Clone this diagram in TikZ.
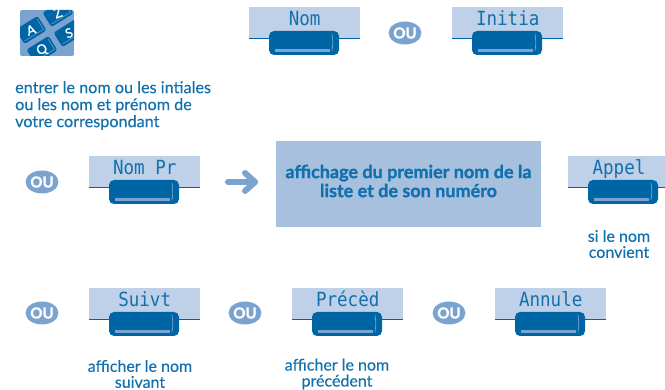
\documentclass[tikz,border=0pt]{standalone}
\usepackage{fontspec}
\setmainfont{Lato}
\newfontfamily\lcdfont[FakeStretch=0.9]{DejaVu Sans Mono}
\newfontfamily\capfont[FakeBold=0.3]{Lato}
\newfontfamily\heavyfont[FakeBold=1.2]{Lato}
\definecolor{kblue}{HTML}{0065A4}
\definecolor{lcd}{HTML}{BFD1E8}
\definecolor{midb}{HTML}{7BA3CF}
\definecolor{panel}{HTML}{A6C0DE}
\definecolor{txtb}{HTML}{1170AD}
\usetikzlibrary{calc,shapes.geometric}
\tikzset{
  x=1pt,y=-1pt,
  screenbox/.style={fill=lcd,draw=none,minimum width=111pt,minimum height=31pt,inner sep=0,anchor=north west},
  lcdtext/.style={text=txtb,font=\lcdfont\fontsize{19.5}{20}\selectfont,inner sep=0,anchor=base},
  oubadge/.style={ellipse,fill=midb,text=white,minimum width=31pt,minimum height=23pt,inner sep=0,font=\heavyfont\bfseries\fontsize{15}{15}\selectfont},
  caption/.style={text=txtb,font=\capfont\fontsize{16}{16}\selectfont,align=center,inner sep=0},
  captionl/.style={text=txtb,font=\capfont\fontsize{16.2}{17}\selectfont,align=left,inner sep=0,anchor=north west},
  keycap/.style={fill=kblue,draw=none,rounded corners=2.5pt},
  keyglyph/.style={text=white,font=\heavyfont\fontsize{13}{13}\selectfont,inner sep=0},
}
\newcommand{\softkey}[4]{%
  \node[screenbox] (#1) at (#2,#3) {};
  \node[lcdtext] (#1t) at ($(#1.north)+(0,19)$) {#4};
  \draw[kblue,line width=1.3pt] (#1.south west) -- (#1.south east);
  \fill[kblue,rounded corners=5pt] (#2+20,#3+24) rectangle (#2+90,#3+48);
  \fill[midb] (#2+25.5,#3+42) rectangle (#2+81,#3+45);
  \draw[midb,line width=.7pt] (#2+83,#3+27) .. controls (#2+84,#3+33) and (#2+84,#3+38) .. (#2+83,#3+44);
}
\begin{document}
\begin{tikzpicture}
\useasboundingbox (0,0) rectangle (665,390);
% keypad icon
\begin{scope}
\clip[rounded corners=2pt] (20,10) rectangle (74,56);
\fill[midb] (20,10) rectangle (74,56);
\foreach \cx/\cy/\l in {31/30/A,58/13/Z,42/50/Q,69/33/S}{
  \fill[keycap,rotate around={32:(\cx,\cy)}] (\cx-13,\cy-8.5) rectangle (\cx+13,\cy+8.5);
  \draw[midb,line width=.5pt,rotate around={32:(\cx,\cy)}] (\cx-11,\cy+6) -- (\cx+11,\cy+6) -- (\cx+11,\cy-6);
  \node[keyglyph,rotate=20] at (\cx,\cy) {\l};
}
\end{scope}
\node[captionl] (intro) at (15,81) {entrer le nom ou les intiales\\ou les nom et prénom de\\votre correspondant};
% soft keys
\softkey{nom}{249}{7}{Nom}
\softkey{initia}{452}{7}{Initia}
\softkey{nompr}{89}{156}{Nom Pr}
\softkey{suivt}{89}{288}{Suivt}
\softkey{preced}{292}{288}{Précèd}
\softkey{annule}{495}{288}{Annule}
% Appel: cropped by the right edge
\node[screenbox,minimum width=97pt] (appel) at (568,156) {};
\node[lcdtext] (appelt) at (619,175) {Appel};
\draw[kblue,line width=1.3pt] (appel.south west) -- (appel.south east);
\fill[kblue,rounded corners=5pt] (588,180) rectangle (658,204);
\fill[midb] (593.5,198) rectangle (649,201);
\draw[midb,line width=.7pt] (651,183) .. controls (652,189) and (652,194) .. (651,200);
% OU
\node[oubadge] (ou1) at (405,33) {OU};
\node[oubadge] (ou2) at (42,182) {OU};
\node[oubadge] (ou3) at (42,313) {OU};
\node[oubadge] (ou4) at (245,313) {OU};
\node[oubadge] (ou5) at (449,313) {OU};
% arrow
\coordinate (arrs) at (228,182);
\coordinate (arre) at (255,182);
\draw[midb,line width=6pt,line cap=round] (arrs) -- (arre);
\draw[midb,line width=6pt,line cap=round,line join=round] ($(arre)+(-10,-9)$) -- (arre) -- ($(arre)+(-10,9)$);
% panel
\node[fill=panel,minimum width=265pt,minimum height=86pt,inner sep=0] (panel) at (408.5,184) {};
\node[inner sep=0,text=txtb,align=center,font=\heavyfont\bfseries\fontsize{18}{19}\selectfont] (paneltext) at (408.5,181) {affichage du premier nom de la\\liste et de son numéro};
% captions
\node[caption] (c1) at (619,244) {si le nom\\convient};
\node[caption] (c2) at (140,374) {afficher le nom\\suivant};
\node[caption] (c3) at (337,374) {afficher le nom\\précédent};
\end{tikzpicture}
\end{document}
